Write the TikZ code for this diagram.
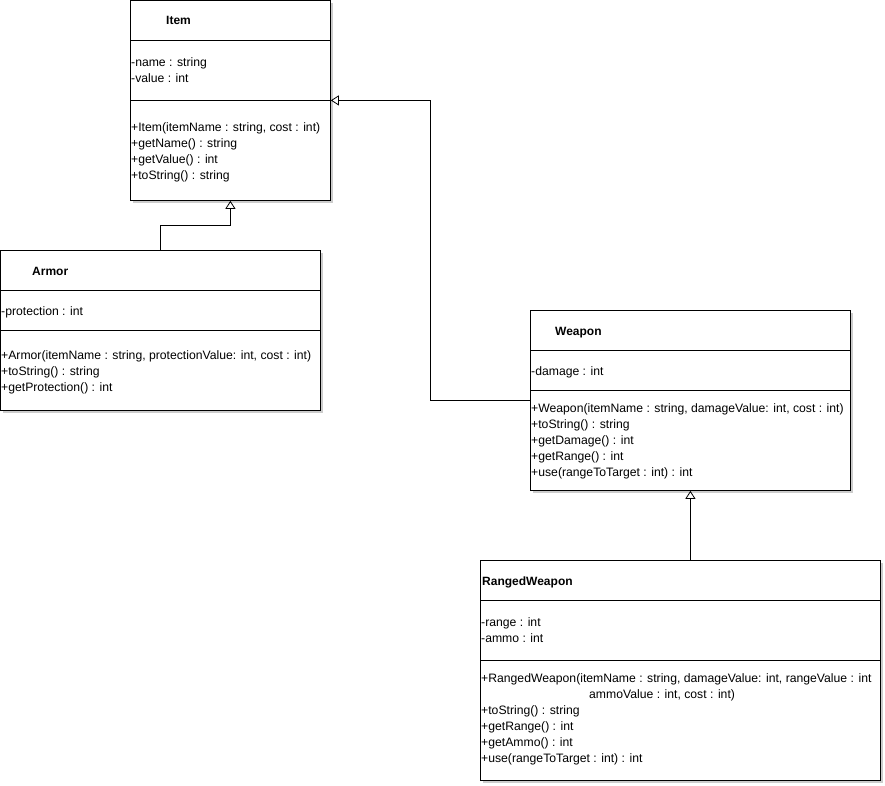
\documentclass[tikz,border=0pt]{standalone}
\usepackage{fontspec}
\setmainfont{Liberation Sans}
\usetikzlibrary{arrows.meta,shadows}

\begin{document}
\begin{tikzpicture}[x=1pt, y=-1pt, >={Triangle[open,length=8pt,width=10pt]},
    box/.style={draw, fill=white, line width=0.8pt, anchor=north west, inner sep=0pt,
      drop shadow={shadow xshift=3pt, shadow yshift=-3pt, fill=gray!40, opacity=1}},
    txt/.style={anchor=base west, inner sep=0pt, font=\fontsize{12.2}{14}\selectfont},
    ttl/.style={txt, font=\fontsize{12}{14}\selectfont\bfseries}]
  \useasboundingbox (0,0) rectangle (885,785);

  % Item
  \node[box, minimum width=200pt, minimum height=200pt] (item) at (130,0) {};
  \draw[line width=0.8pt] (130,40) -- (330,40) (130,100) -- (330,100);
  \node[ttl] (itemname) at (166,24) {Item};
  \node[txt] (itemat1) at (131,66) {-name : string};
  \node[txt] (itemat2) at (131,82) {-value : int};
  \foreach \t [count=\i] in {{+Item(itemName : string, cost : int)}, {+getName() : string},
      {+getValue() : int}, {+toString() : string}}
    \node[txt] (itemop\i) at (131,115+16*\i) {\t};

  % Armor
  \node[box, minimum width=320pt, minimum height=160pt] (armor) at (0,250) {};
  \draw[line width=0.8pt] (0,290) -- (320,290) (0,330) -- (320,330);
  \node[ttl] (armorname) at (32,275) {Armor};
  \node[txt] (armorat1) at (1,315) {-protection : int};
  \foreach \t [count=\i] in {{+Armor(itemName : string, protectionValue: int, cost : int)},
      {+toString() : string}, {+getProtection() : int}}
    \node[txt] (armorop\i) at (1,343+16*\i) {\t};

  % Weapon
  \node[box, minimum width=320pt, minimum height=180pt] (weapon) at (530,310) {};
  \draw[line width=0.8pt] (530,350) -- (850,350) (530,390) -- (850,390);
  \node[ttl] (weaponname) at (555,335) {Weapon};
  \node[txt] (weaponat1) at (531,375) {-damage : int};
  \foreach \t [count=\i] in {{+Weapon(itemName : string, damageValue: int, cost : int)},
      {+toString() : string}, {+getDamage() : int}, {+getRange() : int},
      {+use(rangeToTarget : int) : int}}
    \node[txt] (weaponop\i) at (531,396+16*\i) {\t};

  % RangedWeapon
  \node[box, minimum width=400pt, minimum height=220pt] (ranged) at (480,560) {};
  \draw[line width=0.8pt] (480,600) -- (880,600) (480,660) -- (880,660);
  \node[ttl] (rangedname) at (482,585) {RangedWeapon};
  \node[txt] (rangedat1) at (481,626) {-range : int};
  \node[txt] (rangedat2) at (481,642) {-ammo : int};
  \node[txt] (rangedop1) at (481,682) {+RangedWeapon(itemName : string, damageValue: int, rangeValue : int};
  \node[txt] (rangedop1b) at (589,698) {ammoValue : int, cost : int)};
  \foreach \t [count=\i] in {{+toString() : string}, {+getRange() : int},
      {+getAmmo() : int}, {+use(rangeToTarget : int) : int}}
    \node[txt] (rangedop\i x) at (481,698+16*\i) {\t};

  % generalizations
  \draw[->, line width=0.8pt] (armor.north) -- ++(0,-25) -| (item.south);
  \draw[->, line width=0.8pt] (weapon.west) -- ++(-100,0) |- (item.east);
  \draw[->, line width=0.8pt] (ranged.north -| weapon.south) -- (weapon.south);
\end{tikzpicture}
\end{document}
